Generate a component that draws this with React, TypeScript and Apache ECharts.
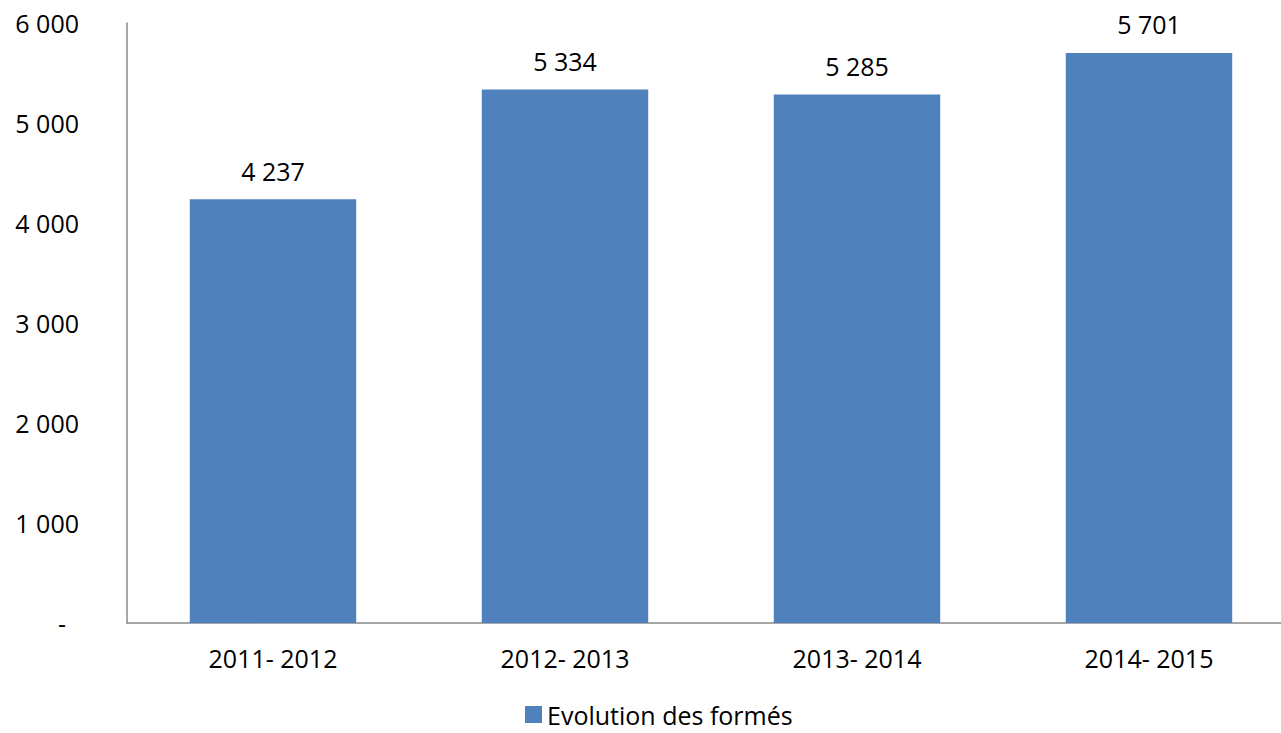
import React, { useEffect, useRef } from "react";
import * as echarts from "echarts";

const categories = ["2011- 2012", "2012- 2013", "2013- 2014", "2014- 2015"];
const values = [4237, 5334, 5285, 5701];
const seriesName = "Evolution des formés";

const fmt = (v: number) => (v === 0 ? "-" : String(v).replace(/\B(?=(\d{3})+(?!\d))/g, " "));

export default function App() {
  const ref = useRef<HTMLDivElement>(null);
  useEffect(() => {
    const chart = echarts.init(ref.current!, null, { renderer: "svg" });
    const font = "'Open Sans', sans-serif";
    chart.setOption({
      animation: false,
      textStyle: { fontFamily: font },
      legend: {
        top: 702,
        left: 525,
        padding: 0,
        itemWidth: 17,
        itemHeight: 17,
        itemGap: 8,
        icon: "rect",
        textStyle: { fontSize: 25, lineHeight: 24, color: "#000", fontFamily: font },
        data: [seriesName],
      },
      grid: { left: 127, top: 23, right: 0, height: 600 },
      xAxis: {
        type: "category",
        data: categories,
        axisLine: { lineStyle: { color: "#888", width: 1.5 } },
        axisTick: { show: false },
        axisLabel: { fontSize: 25, color: "#000", margin: 22, fontFamily: font },
      },
      yAxis: {
        type: "value",
        min: 0,
        max: 6000,
        interval: 1000,
        splitLine: { show: false },
        axisLine: { show: true, lineStyle: { color: "#888", width: 1.5 } },
        axisTick: { show: false },
        axisLabel: {
          fontSize: 25,
          color: "#000",
          margin: 48,
          fontFamily: font,
          formatter: (v: number) => (v === 0 ? "{d|-}" : fmt(v)),
          rich: { d: { fontSize: 25, color: "#000", padding: [0, 13, 0, 0], fontFamily: font } },
        },
      },
      series: [
        {
          name: seriesName,
          type: "bar",
          data: values,
          barWidth: "57%",
          itemStyle: { color: "#4F81BD" },
          label: {
            show: true,
            position: "top",
            distance: 16,
            fontSize: 25,
            color: "#000",
            fontFamily: font,
            formatter: (p: any) => fmt(p.value),
          },
        },
      ],
    });
    return () => chart.dispose();
  }, []);
  return (
    <div
      ref={ref}
      style={{ position: "fixed", left: 0, top: 0, width: 1295, height: 733, background: "#fff" }}
    />
  );
}
